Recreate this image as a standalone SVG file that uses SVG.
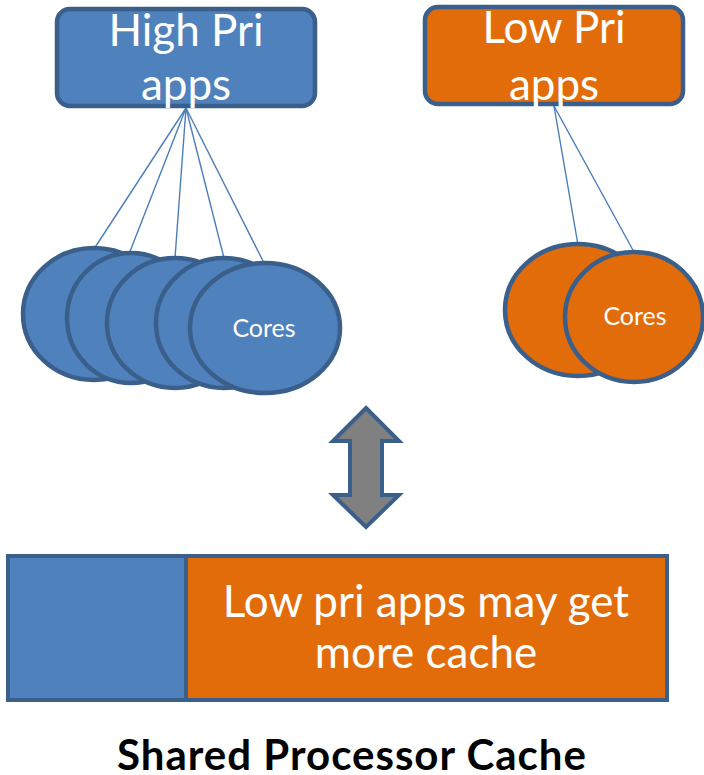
<svg xmlns="http://www.w3.org/2000/svg" width="704" height="775" viewBox="0 0 704 775">
  <style>
    .blue { fill: #4F81BD; stroke: #3A5F8B; stroke-width: 4.5; }
    .orange { fill: #E36C0A; stroke: #3A5F8B; stroke-width: 4.5; }
    .link { stroke: #4A7EBB; stroke-width: 1.4; fill: none; }
    .label { font-family: Lato, "Open Sans", sans-serif; fill: #FFFFFF; text-anchor: middle; }
    .big { font-size: 44px; }
    .small { font-size: 25px; }
    .title { font-family: Lato, "Open Sans", sans-serif; font-weight: bold; font-size: 42px; letter-spacing: 1px; fill: #000000; text-anchor: middle; }
  </style>

  <!-- connectors from app groups to their cores -->
  <g id="connectors">
    <line class="link" x1="186" y1="108" x2="94" y2="249"/>
    <line class="link" x1="186" y1="108" x2="129" y2="254"/>
    <line class="link" x1="186" y1="108" x2="175" y2="258"/>
    <line class="link" x1="186" y1="108" x2="224" y2="258"/>
    <line class="link" x1="186" y1="108" x2="264" y2="263"/>
    <line class="link" x1="554" y1="106" x2="578" y2="245"/>
    <line class="link" x1="554" y1="106" x2="634" y2="252"/>
  </g>

  <g id="high-pri-apps">
    <rect class="blue" x="57" y="9" width="258" height="97" rx="13"/>
    <text class="label big" x="186" y="46">High Pri</text>
    <text class="label big" x="186" y="100">apps</text>
  </g>

  <g id="low-pri-apps">
    <rect class="orange" x="425" y="7" width="258" height="97" rx="13"/>
    <text class="label big" x="554" y="43">Low Pri</text>
    <text class="label big" x="554" y="100">apps</text>
  </g>

  <!-- high priority cores, back to front -->
  <g id="high-core-1"><ellipse class="blue" cx="94" cy="314" rx="71" ry="66"/></g>
  <g id="high-core-2"><ellipse class="blue" cx="131" cy="318" rx="64" ry="65"/></g>
  <g id="high-core-3"><ellipse class="blue" cx="175" cy="323" rx="68" ry="65"/></g>
  <g id="high-core-4"><ellipse class="blue" cx="224" cy="323" rx="68" ry="65"/></g>
  <g id="high-core-5">
    <ellipse class="blue" cx="265" cy="328" rx="75" ry="65"/>
    <text class="label small" x="264" y="337">Cores</text>
  </g>

  <!-- low priority cores -->
  <g id="low-core-1"><ellipse class="orange" cx="578" cy="310" rx="73" ry="66"/></g>
  <g id="low-core-2">
    <ellipse class="orange" cx="634" cy="317" rx="69" ry="65"/>
    <text class="label small" x="635" y="325">Cores</text>
  </g>

  <!-- two-way arrow between cores and cache -->
  <g id="double-arrow">
    <polygon points="366,408 399,441 382,441 382,495 399,495 366,527 333,495 350,495 350,441 333,441"
             fill="#808080" stroke="#3A5F8B" stroke-width="4" stroke-linejoin="miter"/>
  </g>

  <!-- shared cache split between high and low priority -->
  <g id="shared-cache">
    <rect x="8" y="556" width="178" height="144" fill="#4F81BD"/>
    <rect x="186" y="556" width="481" height="144" fill="#E36C0A"/>
    <line x1="186" y1="556" x2="186" y2="700" stroke="#3A5F8B" stroke-width="4"/>
    <rect x="8" y="556" width="659" height="144" fill="none" stroke="#3A5F8B" stroke-width="4"/>
    <text class="label big" x="426" y="617">Low pri apps may get</text>
    <text class="label big" x="426" y="668">more cache</text>
  </g>

  <text class="title" x="352" y="770">Shared Processor Cache</text>
</svg>
